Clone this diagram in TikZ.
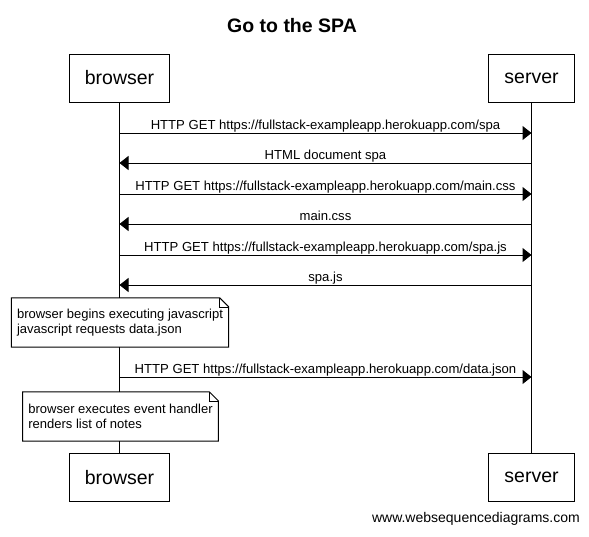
\documentclass[tikz,border=0pt]{standalone}
\usepackage{fontspec}
\setmainfont{Liberation Sans}
\usetikzlibrary{arrows.meta,calc}
\tikzstyle{actor}=[rectangle,draw,line width=1pt,minimum height=48pt,inner xsep=15.5pt,font=\fontsize{19.5}{22}\selectfont]
\tikzstyle{lifeline}=[draw,line width=1pt]
\tikzstyle{msg} = [draw,line width=1pt,-{Triangle[length=9pt,width=14pt]}]
\tikzstyle{msglabel} = [anchor=base,inner sep=0pt,yshift=4pt,font=\fontsize{13.1}{15}\selectfont]
\tikzstyle{notebox} = [fill=white,align=left,inner xsep=5.5pt,minimum height=49pt,font=\fontsize{13}{14.5}\selectfont]

\begin{document}
\begin{tikzpicture}[x=1pt,y=-1pt]
\useasboundingbox (0,0) rectangle (589,536);

% Title
\node[anchor=base,font=\bfseries\fontsize{19.5}{22}\selectfont] (title) at (292,32.5) {Go to the SPA};

% actors, top and bottom
    \foreach \pos/\name/\txt in {{(119.5,78)/browser/browser},{(531.5,78)/server/server},{(119.5,477.5)/browserB/browser},{(531.5,477.5)/serverB/server}}
    	\node[actor] (\name) at \pos {\txt};

% lifelines
    \foreach \source/\dest in {browser/browserB, server/serverB}
        \path[lifeline] (\source) -- (\dest);

% messages
    \foreach \source/\dest/\y/\txt in {browser/server/133/{HTTP GET https://fullstack-exampleapp.herokuapp.com/spa},
        server/browser/163/{HTML document spa},
        browser/server/194/{HTTP GET https://fullstack-exampleapp.herokuapp.com/main.css},
        server/browser/224/{main.css},
        browser/server/255/{HTTP GET https://fullstack-exampleapp.herokuapp.com/spa.js},
        server/browser/285/{spa.js},
        browser/server/377/{HTTP GET https://fullstack-exampleapp.herokuapp.com/data.json}}
        \path[msg] (\source |- 0,\y) -- node[msglabel] {\txt} (\dest |- 0,\y);

% notes
  \node[notebox] (note1) at (120,322.5) {browser begins executing javascript\\javascript requests data.json};
  \node[notebox] (note2) at (120.5,416.5) {browser executes event handler\\renders list of notes};

    \foreach \n in {note1,note2}{
      \draw[line width=1pt] (\n.north west) -- ($(\n.north east)+(-9,0)$) -- ($(\n.north east)+(0,9)$) -- (\n.south east) -- (\n.south west) -- cycle;
      \draw[line width=0.6pt] ($(\n.north east)+(-9,0)$) |- ($(\n.north east)+(0,9)$);
    }

% footer
\node[anchor=base east,inner sep=0pt,font=\fontsize{14}{16}\selectfont] (footer) at (580,522) {www.websequencediagrams.com};

\end{tikzpicture}
\end{document}
